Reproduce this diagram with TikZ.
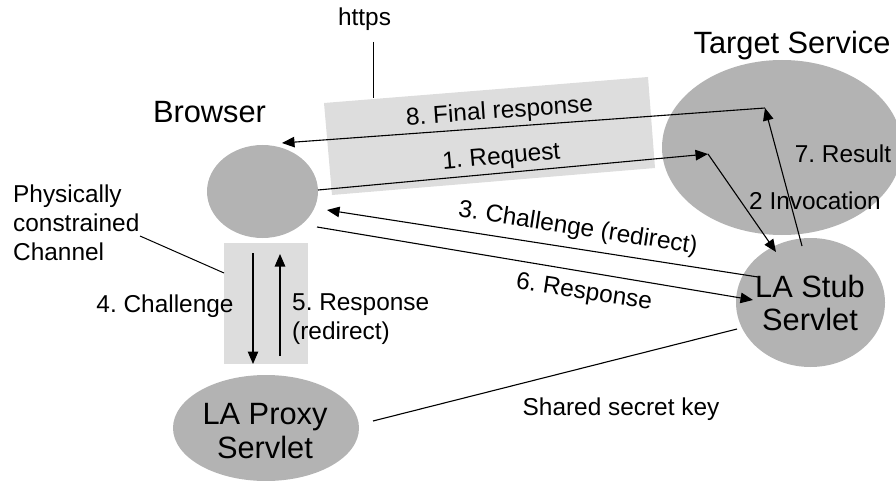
\documentclass[tikz,border=0pt]{standalone}
\usepackage{fontspec}
\setmainfont{Liberation Sans}
\usetikzlibrary{shapes.geometric,arrows.meta}

\definecolor{nodegray}{HTML}{B3B3B3}
\definecolor{boxgray}{HTML}{DDDDDD}

\tikzset{
  party/.style={ellipse, fill=nodegray, draw=none, inner sep=0pt},
  bigtxt/.style={font=\fontsize{30.8}{33}\selectfont\frenchspacing, inner sep=0pt, align=center},
  smalltxt/.style={font=\fontsize{24.4}{29}\selectfont\frenchspacing, inner sep=0pt},
  msg/.style={line width=1.1pt, -{Triangle[length=12.5pt,width=10.5pt]}},
  plainline/.style={line width=1.1pt},
}

\begin{document}
\begin{tikzpicture}[x=1pt, y=-1pt]
\useasboundingbox (0,0) rectangle (896,481);

% shaded channels
\fill[boxgray] (324,103) -- (648,77) -- (655,168) -- (332,195) -- cycle;
\fill[boxgray] (224,243) rectangle (308,364);

% parties
\node[party, minimum width=111pt, minimum height=93pt]  (browser) at (262.5,191.5) {};
\node[party, minimum width=240pt, minimum height=175pt] (target)  at (782,147.5) {};
\node[party, minimum width=149pt, minimum height=129pt] (stub)    at (810.5,302.5) {};
\node[party, minimum width=186pt, minimum height=106pt] (proxy)   at (266,428) {};

% party names (multi-line nodes sit on the baseline of their last line)
\node[bigtxt, anchor=base] (browserlbl) at (209.5,123) {Browser};
\node[bigtxt, anchor=base] (targetlbl)  at (792,53.5) {Target Service};
\node[bigtxt, anchor=base] (stublbl)    at (810,330) {LA Stub\\[0pt]Servlet};
\node[bigtxt, anchor=base] (proxylbl)   at (265,458) {LA Proxy\\[1pt]Servlet};

% connection points
\coordinate (inv) at (708,154);
\coordinate (res) at (765,108);
\coordinate (b8)  at (282,143);
\coordinate (b1)  at (318,190);
\coordinate (b3)  at (327,210);
\coordinate (b6)  at (317,227);
\coordinate (s2)  at (776,252);
\coordinate (s7)  at (802,246);
\coordinate (s3)  at (758,277);
\coordinate (s6)  at (753,300);
\coordinate (p4)  at (253,253);
\coordinate (p4e) at (253,364);
\coordinate (p5)  at (280,356);
\coordinate (p5e) at (280,254);
\coordinate (pk)  at (373,421);
\coordinate (sk)  at (737,329);

% messages
\draw[msg] (b1) -- (inv);
\draw[msg] (inv) -- (s2);
\draw[msg] (s3) -- (b3);
\draw[msg] (p4) -- (p4e);
\draw[msg] (p5) -- (p5e);
\draw[msg] (b6) -- (s6);
\draw[msg] (s7) -- (res);
\draw[msg] (res) -- (b8);
\draw[plainline] (pk) -- (sk);

% message labels
\node[smalltxt, anchor=base, rotate=4]  (l8) at (500,118.5) {8. Final response};
\node[smalltxt, anchor=base, rotate=5]  (l1) at (502,164) {1. Request};
\node[smalltxt, anchor=base, rotate=-8.8] (l3) at (577,235) {3. Challenge (redirect)};
\node[smalltxt, anchor=base, rotate=-8.5] (l6) at (583,299) {6. Response};
\node[smalltxt, anchor=base] (l7) at (843,163) {7. Result};
\node[smalltxt, anchor=base] (l2) at (815,209) {2 Invocation};
\node[smalltxt, anchor=base] (l4) at (165,312) {4. Challenge};
\node[smalltxt, anchor=base west, align=left] (l5) at (292,339) {5. Response\\(redirect)};
\node[smalltxt, anchor=base] (lkey) at (621,415) {Shared secret key};

% annotations
\node[smalltxt, anchor=base] (https) at (364.5,26) {https};
\coordinate (httpsfoot) at (373,98);
\draw[line width=1pt] (373,42) -- (httpsfoot);
\node[smalltxt, anchor=base west, align=left] (phys) at (13,260) {Physically\\constrained\\Channel};
\coordinate (physfoot) at (224,273);
\draw[line width=1pt] (140,236) -- (physfoot);
\end{tikzpicture}
\end{document}
